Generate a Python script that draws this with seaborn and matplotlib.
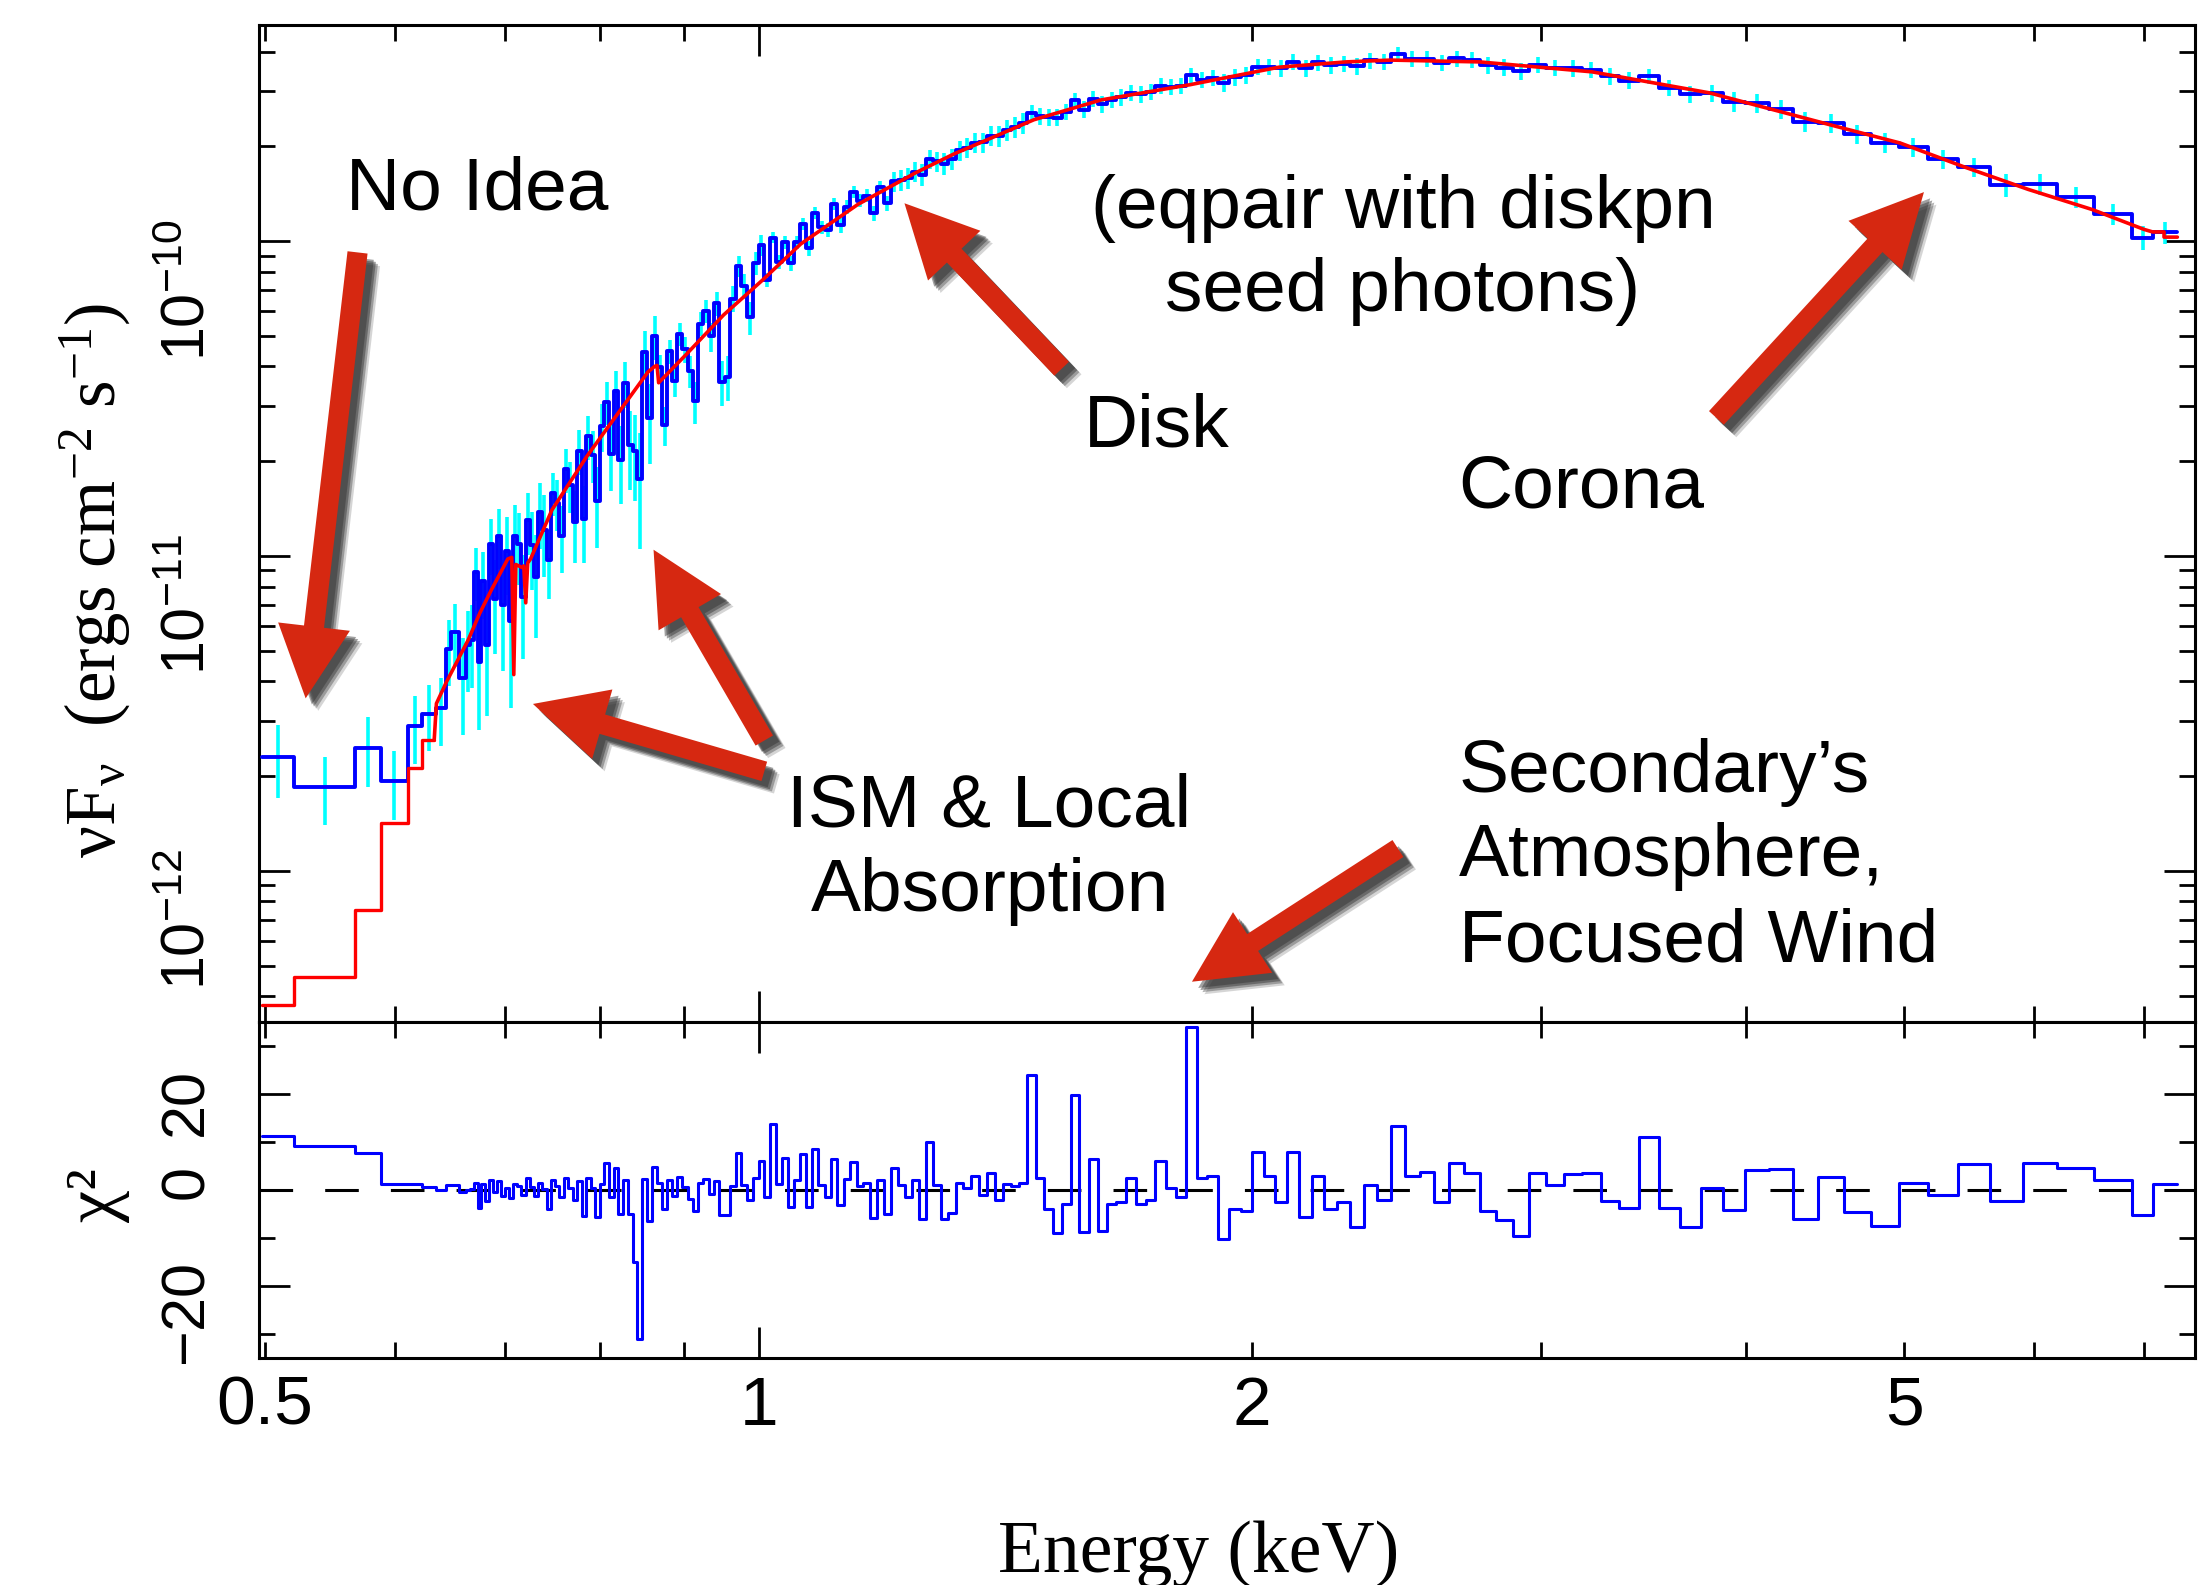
"""
X-ray spectrum figure: nuF_nu data with model (top) and chi residuals (bottom).
"""

import matplotlib

matplotlib.use("Agg")
import matplotlib.patheffects as pe
import matplotlib.pyplot as plt
import numpy as np
import pandas as pd
import seaborn as sns
from matplotlib.patches import FancyArrowPatch
from matplotlib.ticker import FixedLocator, FuncFormatter, NullFormatter

HC = 12.398  # keV * Angstrom

# wide low-energy bins (lower edges in keV, the last one ends where the grating grid starts)
# flux in 1e-12 erg cm^-2 s^-1
low_edges_kev = [0.498, 0.521, 0.567, 0.588, 0.611, 0.623, 0.636, 0.645, 0.649, 0.6565]
low_flux = [2.30, 1.85, 2.46, 1.93, 2.88, 3.15, 3.3, 5.06, 5.74, 4.1]
low_flux_err = [0.60, 0.45, 0.62, 0.48, 0.70, 0.75, 0.80, 1.2, 1.3, 1.4]
low_chi = [11.3, 9.2, 7.8, 1.3, 1.3, 0.6, 0.0, 1.1, 1.1, -0.5]

# grating bins, edges in Angstrom
grating_edges_angstrom = [
    18.7, 18.6, 18.5, 18.4,
    18.3, 18.2, 18.1, 18.0, 17.9, 17.8, 17.7, 17.6, 17.5, 17.4,
    17.3, 17.2, 17.1, 17.0, 16.9, 16.8, 16.7, 16.6, 16.5, 16.4,
    16.3, 16.2, 16.1, 16.0, 15.9, 15.8, 15.7, 15.6, 15.5, 15.4,
    15.3, 15.2, 15.1, 15.0, 14.9, 14.8, 14.7, 14.6, 14.5, 14.4,
    14.3, 14.2, 14.1, 14.0, 13.9, 13.8, 13.7, 13.6, 13.5, 13.4,
    13.3, 13.2, 13.1, 13.0, 12.9, 12.8, 12.7, 12.6, 12.5, 12.4,
    12.3, 12.2, 12.1, 12.0, 11.9, 11.8, 11.7, 11.6, 11.5, 11.4,
    11.3, 11.2, 11.1, 11.0, 10.9, 10.8, 10.7, 10.6, 10.5, 10.4,
    10.3, 10.2, 10.1, 10.0, 9.9, 9.8, 9.7, 9.6, 9.5, 9.4,
    9.3, 9.2, 9.1, 9.0, 8.9, 8.8, 8.7, 8.6, 8.5, 8.4,
    8.3, 8.2, 8.1, 8.0, 7.9, 7.8, 7.7, 7.6, 7.5, 7.4,
    7.3, 7.2, 7.1, 7.0, 6.9, 6.8, 6.7, 6.6, 6.5, 6.4,
    6.3, 6.2, 6.1, 6.0, 5.9, 5.8, 5.7, 5.6, 5.5, 5.4,
    5.3, 5.2, 5.1, 5.0, 4.9, 4.8, 4.7, 4.6, 4.5, 4.4,
    4.3, 4.2, 4.1, 4.0, 3.9, 3.8, 3.7, 3.6, 3.5, 3.4,
    3.3, 3.2, 3.1, 3.0, 2.9, 2.8, 2.7, 2.6, 2.5, 2.4,
    2.3, 2.2, 2.1, 2.0, 1.9, 1.8, 1.75, 1.69,
]

flux = [
    5.2, 5.4, 8.9, 4.6,
    8.3, 5.2, 10.9, 7.3, 11.6, 7.0, 10.4, 6.2, 11.6, 10.9,
    7.4, 13.0, 10.8, 8.6, 13.8, 12.1, 9.7, 15.9, 14.7, 11.6,
    18.9, 16.8, 12.8, 21.6, 13.1, 24.0, 21.0, 14.9, 25.9, 30.9,
    21.1, 33.4, 20.2, 35.5, 22.5, 21.5, 17.5, 44.5, 27.4, 50.0,
    39.8, 26.0, 44.7, 36.0, 50.6, 45.4, 38.7, 31.0, 54.7, 59.9,
    49.8, 63.5, 35.7, 37.1, 65.7, 83.6, 72.0, 57.4, 85.4, 96.9,
    75.3, 102.6, 85.9, 99.1, 85.0, 99.1, 113.7, 95.0, 123.3, 110.9,
    108.8, 131.0, 112.5, 128.5, 143.2, 134.6, 139.6, 122.6, 148.6, 132.2,
    154.8, 156.4, 158.3, 166.4, 162.8, 182.1, 179.2, 176.4, 182.3, 194.2,
    198.0, 205.4, 205.8, 216.5, 215.2, 225.0, 230.2, 237.1, 256.0, 249.1,
    247.2, 246.9, 257.5, 280.1, 261.8, 283.3, 272.2, 281.7, 286.2, 295.3,
    292.9, 298.2, 312.1, 309.6, 311.4, 336.8, 325.3, 330.5, 318.6, 331.1,
    336.2, 357.9, 357.4, 354.2, 371.0, 354.6, 369.5, 361.7, 366.5, 360.5,
    375.0, 372.0, 392.3, 379.1, 379.4, 369.2, 380.7, 376.3, 362.5, 356.0,
    347.5, 362.4, 354.9, 354.4, 350.3, 334.1, 323.8, 334.3, 307.0, 293.8,
    294.8, 277.1, 274.3, 262.1, 239.9, 236.7, 218.6, 205.0, 199.3, 182.0,
    171.9, 150.6, 151.6, 138.1, 121.7, 102.6, 106.7,
]

flux_err = [
    1.5, 1.6, 1.7, 1.8,
    2.0, 2.1, 2.2, 2.4, 2.5, 2.7, 2.9, 2.9, 2.9, 2.8,
    2.7, 2.9, 3.0, 3.1, 3.3, 3.5, 2.4, 2.5, 2.7, 2.8,
    3.0, 3.1, 3.3, 3.5, 3.6, 3.8, 4.0, 4.3, 4.5, 4.8,
    5.0, 5.3, 5.6, 5.9, 6.3, 6.6, 7.0, 7.4, 7.8, 8.0,
    3.6, 3.7, 3.9, 4.0, 4.2, 4.3, 4.5, 4.7, 4.9, 5.1,
    5.3, 5.5, 5.8, 6.0, 6.2, 6.4, 6.7, 6.9, 7.2, 7.5,
    3.9, 4.0, 4.2, 4.4, 4.6, 4.8, 4.9, 5.1, 5.3, 5.4,
    5.6, 5.8, 6.0, 6.2, 6.4, 6.6, 6.8, 7.0, 7.1, 7.3,
    11.3, 11.6, 12.0, 12.3, 12.7, 13.0, 13.3, 13.7, 14.1, 14.4,
    14.8, 15.1, 15.5, 15.9, 16.3, 16.8, 17.2, 17.6, 14.5, 14.8,
    15.1, 15.4, 15.6, 15.9, 16.3, 16.6, 16.9, 17.1, 17.3, 17.5,
    17.8, 18.0, 18.3, 18.5, 18.8, 19.1, 19.3, 19.6, 19.9, 20.2,
    20.5, 20.9, 21.2, 21.5, 21.6, 21.8, 21.9, 22.1, 22.2, 22.3,
    22.4, 22.5, 22.5, 22.5, 22.4, 22.4, 22.3, 22.3, 22.1, 21.9,
    21.7, 21.4, 21.2, 21.0, 20.7, 20.2, 19.7, 19.2, 18.7, 18.2,
    17.7, 19.7, 18.9, 18.0, 17.2, 16.4, 15.6, 14.8, 13.9, 12.8,
    11.8, 12.4, 11.4, 10.5, 9.5, 8.8, 8.4,
]

chi = [
    0.0, 0.2, 1.5, -3.8,
    1.3, -2.3, 2.0, -0.5, 1.8, -1.2, 0.5, -1.6, 1.2, 0.8,
    -1.0, 2.5, 0.6, -1.2, 1.5, 0.3, -4.0, 2.0, 0.8, -1.5,
    2.4, 0.5, -2.0, 1.8, -5.5, 2.6, 0.4, -5.7, 1.2, 5.7,
    -1.4, 4.5, -5.0, 2.0, -5.0, -15.0, -31.0, 2.2, -6.5, 4.8,
    1.5, -4.0, 2.0, -1.2, 2.8, 0.6, -1.8, -4.3, 1.5, 2.2,
    -0.8, 1.9, -5.3, -5.3, 0.8, 7.7, 1.0, -2.1, 2.4, 6.0,
    -1.5, 13.7, 1.2, 6.7, -3.5, 2.0, 7.5, -3.6, 8.6, 1.0,
    -1.5, 6.5, -3.2, 2.2, 5.9, 0.8, 1.5, -5.8, 2.0, -5.0,
    4.5, 1.0, -1.5, 2.0, -6.1, 9.9, 1.0, -6.0, -4.7, 1.5,
    0.5, 3.0, -1.0, 3.5, -2.0, 1.2, 0.8, 1.5, 24.0, 2.5,
    -4.0, -9.0, -3.0, 19.8, -8.7, 6.5, -8.5, -3.0, -2.5, 2.5,
    -3.0, -2.0, 6.0, 0.5, -1.5, 34.0, 2.5, 3.0, -10.3, -4.0,
    -4.3, 7.9, 3.0, -2.5, 7.9, -5.6, 3.0, -4.0, -2.5, -7.8,
    1.0, -2.0, 13.4, 3.0, 3.7, -2.6, 5.7, 3.5, -4.3, -6.2,
    -9.5, 3.5, 1.0, 3.4, 3.6, -2.3, -3.7, 11.0, -3.8, -7.7,
    0.5, -4.2, 4.2, 4.3, -6.0, 2.8, -4.5, -7.4, 1.5, -1.0,
    5.4, -2.2, 5.6, 4.6, 2.0, -5.2, 1.3,
]

# model: coarse steps at the low end, then the smooth curve
model_step_edges_kev = [0.4975, 0.521, 0.567, 0.588, 0.611, 0.623, 0.634]
model_step_flux = [0.375, 0.46, 0.75, 1.42, 2.12, 2.6]
model_kev = [
    0.634, 0.636, 0.645, 0.665, 0.676, 0.687, 0.703, 0.707, 0.709, 0.711,
    0.717, 0.719, 0.721, 0.723, 0.726, 0.748, 0.786, 0.820, 0.856, 0.864,
    0.867, 0.869, 0.903, 0.952, 1.006, 1.061, 1.150, 1.247, 1.315, 1.472,
    1.618, 1.833, 2.077, 2.281, 2.430, 2.754, 3.224, 3.80, 4.55, 4.97,
    5.44, 5.95, 6.51, 7.00, 7.085, 7.20, 7.20, 7.336,
]
model_flux = [
    2.6, 3.4, 3.98, 5.41, 6.59, 7.80, 9.78, 9.9, 4.2, 9.4,
    9.2, 9.3, 7.1, 9.5, 9.8, 14.0, 20.8, 28.2, 38.4, 40.0,
    40.3, 35.5, 43.6, 58.3, 75.4, 98.0, 131.0, 165.0, 189.0, 243.0,
    281.0, 314.0, 357.0, 371.0, 376.0, 371.0, 345.0, 296.0, 231.0, 205.0,
    172.0, 146.0, 126.0, 109.0, 107.0, 107.0, 103.0, 103.0,
]

ARROW_RED = "#D62811"
ANN_FS = 54

sns.set_theme(style="ticks")
plt.rcParams["font.family"] = ["Liberation Sans", "DejaVu Sans"]
plt.rcParams.update({
    "text.color": "black",
    "axes.labelcolor": "black",
    "xtick.color": "black",
    "ytick.color": "black",
    "axes.edgecolor": "black",
    "axes.linewidth": 2.2,
    "mathtext.fontset": "custom",
    "mathtext.rm": "Liberation Serif",
    "mathtext.it": "Liberation Serif:italic",
    "mathtext.bf": "Liberation Serif:bold",
    "mathtext.sf": "Liberation Sans",
})

edges = np.array(low_edges_kev + [HC / w for w in grating_edges_angstrom])
fl = np.array(low_flux + flux) * 1e-12
fl_err = np.array(low_flux_err + flux_err) * 1e-12
ch = np.array(low_chi + chi)
centers = np.sqrt(edges[:-1] * edges[1:])

data_steps = pd.DataFrame({"energy": edges, "flux": np.append(fl, fl[-1])})
chi_steps = pd.DataFrame({"energy": edges, "chi": np.append(ch, ch[-1])})
mstep = pd.DataFrame({"energy": model_step_edges_kev,
                      "flux": np.append(model_step_flux, model_step_flux[-1]) * 1e-12})
mline = pd.DataFrame({"energy": model_kev, "flux": np.array(model_flux) * 1e-12})

fig = plt.figure(figsize=(21.99, 15.85), dpi=100)
ax1 = fig.add_axes([0.11778, 0.35521, 0.88040, 0.62902])
ax2 = fig.add_axes([0.11778, 0.14322, 0.88040, 0.21199], sharex=ax1)

ax1.set_xscale("log")
ax1.set_yscale("log")

# top panel
ax1.errorbar(centers, fl, yerr=fl_err, fmt="none", ecolor="#00FFFF",
             elinewidth=2.6, capsize=0, zorder=2)
sns.lineplot(data=data_steps, x="energy", y="flux", drawstyle="steps-post",
             estimator=None, sort=False, color="#0000FF", lw=2.8, ax=ax1, zorder=3)
sns.lineplot(data=mstep, x="energy", y="flux", drawstyle="steps-post",
             estimator=None, sort=False, color="#FF0000", lw=2.4, ax=ax1, zorder=4)
sns.lineplot(data=mline, x="energy", y="flux", estimator=None, sort=False,
             color="#FF0000", lw=2.6, ax=ax1, zorder=4)

ax1.set_xlim(0.4957, 7.52)
ax1.set_ylim(3.31e-13, 4.86e-10)

# residual panel
ax2.axhline(0, color="black", lw=2.2, ls=(0, (11, 10.5)), zorder=1)
sns.lineplot(data=chi_steps, x="energy", y="chi", drawstyle="steps-post",
             estimator=None, sort=False, color="#0000FF", lw=2.2, ax=ax2, zorder=3)
ax2.set_ylim(-35, 35)

for ax in (ax1, ax2):
    ax.set_xlabel("")
    ax.set_ylabel("")
    ax.tick_params(which="both", direction="in", top=True, right=True,
                   width=2.0, color="black", labelcolor="black")
    ax.tick_params(which="major", length=22)
    ax.tick_params(which="minor", length=11.5)
    ax.tick_params(axis="y", which="both", labelrotation=90, labelsize=44, pad=30)
    ax.xaxis.set_major_locator(FixedLocator([1]))
    ax.xaxis.set_minor_locator(FixedLocator([0.5, 0.6, 0.7, 0.8, 0.9, 2, 3, 4, 5, 6, 7]))
    for sp in ax.spines.values():
        sp.set_linewidth(2.2)
        sp.set_color("black")

ax1.yaxis.set_major_locator(FixedLocator([1e-12, 1e-11, 1e-10]))
ax1.yaxis.set_minor_locator(FixedLocator(
    [k * 10.0 ** e for e in (-13, -12, -11, -10) for k in range(2, 10)]))
ax1.yaxis.set_major_formatter(FuncFormatter(
    lambda v, p: r"$\mathsf{10^{%d}}$" % round(np.log10(v))))
ax1.yaxis.set_minor_formatter(NullFormatter())
ax1.tick_params(axis="x", which="both", labelbottom=False)

ax2.yaxis.set_major_locator(FixedLocator([-20, 0, 20]))
ax2.yaxis.set_minor_locator(FixedLocator([-30, -10, 10, 30]))
ax2.yaxis.set_major_formatter(FuncFormatter(
    lambda v, p: r"$\mathsf{%d}$" % int(v)))
ax2.yaxis.set_minor_formatter(NullFormatter())

xlab = {0.5: "0.5", 1: "1", 2: "2", 5: "5"}
fmt = FuncFormatter(lambda v, p: next((s for k, s in xlab.items() if abs(v - k) < 1e-6), ""))
ax2.xaxis.set_major_formatter(fmt)
ax2.xaxis.set_minor_formatter(fmt)
ax2.tick_params(axis="x", which="both", labelsize=50, pad=12)

# axis titles
serif = ["Liberation Serif", "DejaVu Serif"]
fig.text(95 / 2199, 1 - 580 / 1585,
         r"$\mathrm{\nu F_{\nu}}$  (ergs cm$^{-2}$ s$^{-1}$)",
         rotation=90, ha="center", va="center", fontsize=51, family=serif)
fig.text(97 / 2199, 1 - 1195 / 1585, "χ²", rotation=90, ha="center", va="center",
         fontsize=52, family=serif)
fig.text(1199 / 2199, 1 - 1572 / 1585, "Energy (keV)", ha="center", va="baseline",
         fontsize=53, family=serif)

# annotations
labels = [
    ("No Idea", 0.0449, 0.8154, "left"),
    ("(eqpair with diskpn", 0.5909, 0.7960, "center"),
    ("seed photons)", 0.5909, 0.7127, "center"),
    ("Disk", 0.4262, 0.5777, "left"),
    ("Corona", 0.6196, 0.5158, "left"),
    ("ISM & Local", 0.3771, 0.1956, "center"),
    ("Absorption", 0.3776, 0.1117, "center"),
    ("Secondary\u2019s", 0.6196, 0.2307, "left"),
    ("Atmosphere,", 0.6196, 0.1464, "left"),
    ("Focused Wind", 0.6196, 0.0602, "left"),
]
for s, x, y, ha in labels:
    ax1.text(x, y, s, transform=ax1.transAxes, fontsize=ANN_FS, ha=ha,
             va="baseline", color="black", zorder=7)

arrows = [
    ((0.0509, 0.7719), (0.0241, 0.3246)),
    ((0.4146, 0.6552), (0.3334, 0.8212)),
    ((0.7528, 0.6059), (0.8600, 0.8324)),
    ((0.2610, 0.2514), (0.1415, 0.3190)),
    ((0.2610, 0.2823), (0.2038, 0.4737)),
    ((0.5883, 0.1740), (0.4819, 0.0404)),
]
shadow = [
    pe.SimplePatchShadow(offset=(9, -9), shadow_rgbFace="#303030", alpha=0.20),
    pe.SimplePatchShadow(offset=(7.5, -7.5), shadow_rgbFace="#303030", alpha=0.35),
    pe.SimplePatchShadow(offset=(6, -6), shadow_rgbFace="#303030", alpha=0.45),
    pe.SimplePatchShadow(offset=(4.5, -4.5), shadow_rgbFace="#303030", alpha=0.45),
    pe.Normal(),
]
for tail, tip in arrows:
    arr = FancyArrowPatch(tail, tip, transform=ax1.transAxes,
                          arrowstyle="simple,head_length=52,head_width=52,tail_width=14.5",
                          mutation_scale=1, shrinkA=0, shrinkB=0,
                          facecolor=ARROW_RED, edgecolor="none", lw=0,
                          zorder=6, clip_on=False)
    arr.set_path_effects(shadow)
    ax1.add_patch(arr)

fig.savefig("out.png", dpi=100)
